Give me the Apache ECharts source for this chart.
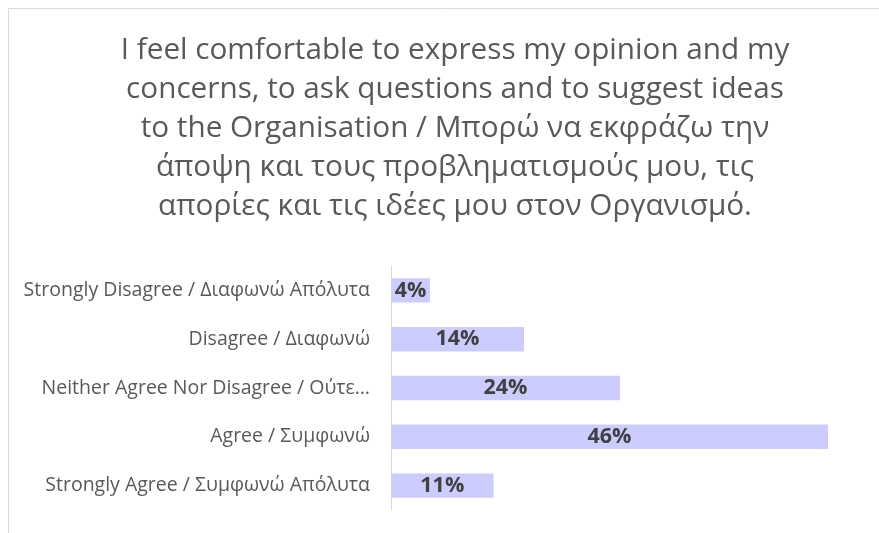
<!DOCTYPE html>
<html>
<head>
<meta charset="utf-8">
<script src="https://cdn.jsdelivr.net/npm/echarts@6/dist/echarts.min.js"></script>
<style>html,body{margin:0;padding:0;background:#fff;}#c{width:879px;height:533px;}</style>
</head>
<body>
<div id="c"></div>
<script>
const titleText = "I feel comfortable to express my opinion and my\nconcerns, to ask questions and to suggest ideas\nto the Organisation / Μπορώ να εκφράζω την\nάποψη και τους προβληματισμούς μου, τις\nαπορίες και τις ιδέες μου στον Οργανισμό.";
const categories = [
  "Strongly Disagree / Διαφωνώ Απόλυτα",
  "Disagree / Διαφωνώ",
  "Neither Agree Nor Disagree / Ούτε…",
  "Agree / Συμφωνώ",
  "Strongly Agree / Συμφωνώ Απόλυτα"
];
const values = [4.1, 14.0, 24.1, 46.0, 10.8];

const chart = echarts.init(document.getElementById('c'), null, {renderer: 'canvas'});
chart.setOption({
  animation: false,
  backgroundColor: '#ffffff',
  title: {
    text: titleText,
    left: 450,
    top: 26,
    textAlign: 'center',
    textStyle: {
      fontFamily: 'Open Sans',
      fontSize: 29.7,
      fontWeight: 'normal',
      color: '#595959',
      lineHeight: 39
    }
  },
  graphic: [
    {type: 'line', shape: {x1: 8.5, y1: 8.5, x2: 879, y2: 8.5}, style: {stroke: '#d9d9d9', lineWidth: 1}},
    {type: 'line', shape: {x1: 8.5, y1: 8.5, x2: 8.5, y2: 533}, style: {stroke: '#d9d9d9', lineWidth: 1}}
  ],
  grid: {left: 391, right: 13, top: 266, height: 244, containLabel: false},
  xAxis: {
    type: 'value', min: 0, max: 50, show: false
  },
  yAxis: {
    type: 'category',
    data: categories,
    inverse: true,
    axisLine: {show: true, lineStyle: {color: '#d9d9d9', width: 1}},
    axisTick: {show: false},
    axisLabel: {
      margin: 21,
      fontFamily: 'Open Sans',
      fontSize: 19.5,
      color: '#595959'
    }
  },
  series: [{
    type: 'bar',
    data: values,
    barCategoryGap: '50%',
    itemStyle: {color: '#ccccff'},
    label: {
      show: true,
      position: 'inside',
      fontFamily: 'Open Sans',
      fontSize: 21.5,
      fontWeight: 'bold',
      color: '#404040',
      formatter: p => Math.round(p.value) + '%'
    }
  }]
});
</script>
</body>
</html>
